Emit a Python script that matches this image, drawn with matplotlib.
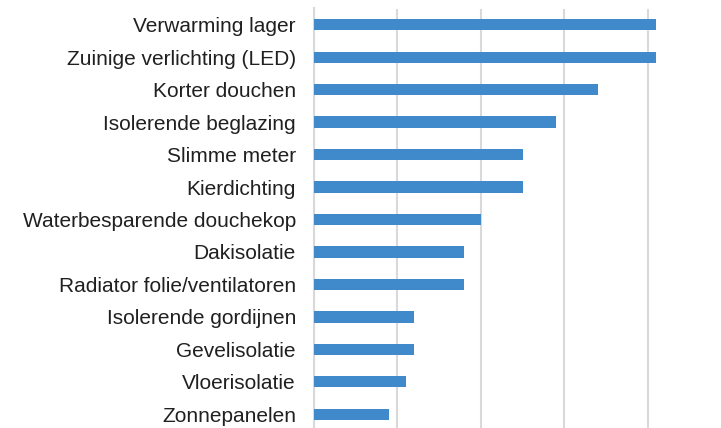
import matplotlib
matplotlib.use("Agg")
import matplotlib.pyplot as plt

categories = [
    "Verwarming lager",
    "Zuinige verlichting (LED)",
    "Korter douchen",
    "Isolerende beglazing",
    "Slimme meter",
    "Kierdichting",
    "Waterbesparende douchekop",
    "Dakisolatie",
    "Radiator folie/ventilatoren",
    "Isolerende gordijnen",
    "Gevelisolatie",
    "Vloerisolatie",
    "Zonnepanelen",
]
values = [41, 41, 34, 29, 25, 25, 20, 18, 18, 12, 12, 11, 9]

plt.rcParams["font.family"] = ["Liberation Sans", "DejaVu Sans"]

fig = plt.figure(figsize=(7.21, 4.28), dpi=100)
ax = fig.add_axes([314 / 721, -2.5 / 428, 1 - 314 / 721, 422 / 428])

pos = list(range(len(categories)))
ax.barh(pos, values, height=0.35, color="#408ACB", zorder=3)
ax.set_yticks(pos)
ax.set_yticklabels(categories, fontsize=15, color="#202020")
ax.set_ylim(len(categories) - 0.5, -0.5)
ax.set_xlim(0, 48.8)
ax.set_xticks([0, 10, 20, 30, 40])
ax.tick_params(axis="x", length=0, labelbottom=False)
ax.tick_params(axis="y", length=0, pad=13)
ax.grid(axis="x", color="#d9d9d9", linewidth=1.5, zorder=0)
for s in ["top", "right", "bottom"]:
    ax.spines[s].set_visible(False)
ax.spines["left"].set_color("#d9d9d9")
ax.spines["left"].set_linewidth(1.5)

fig.savefig("out.png", dpi=100)
